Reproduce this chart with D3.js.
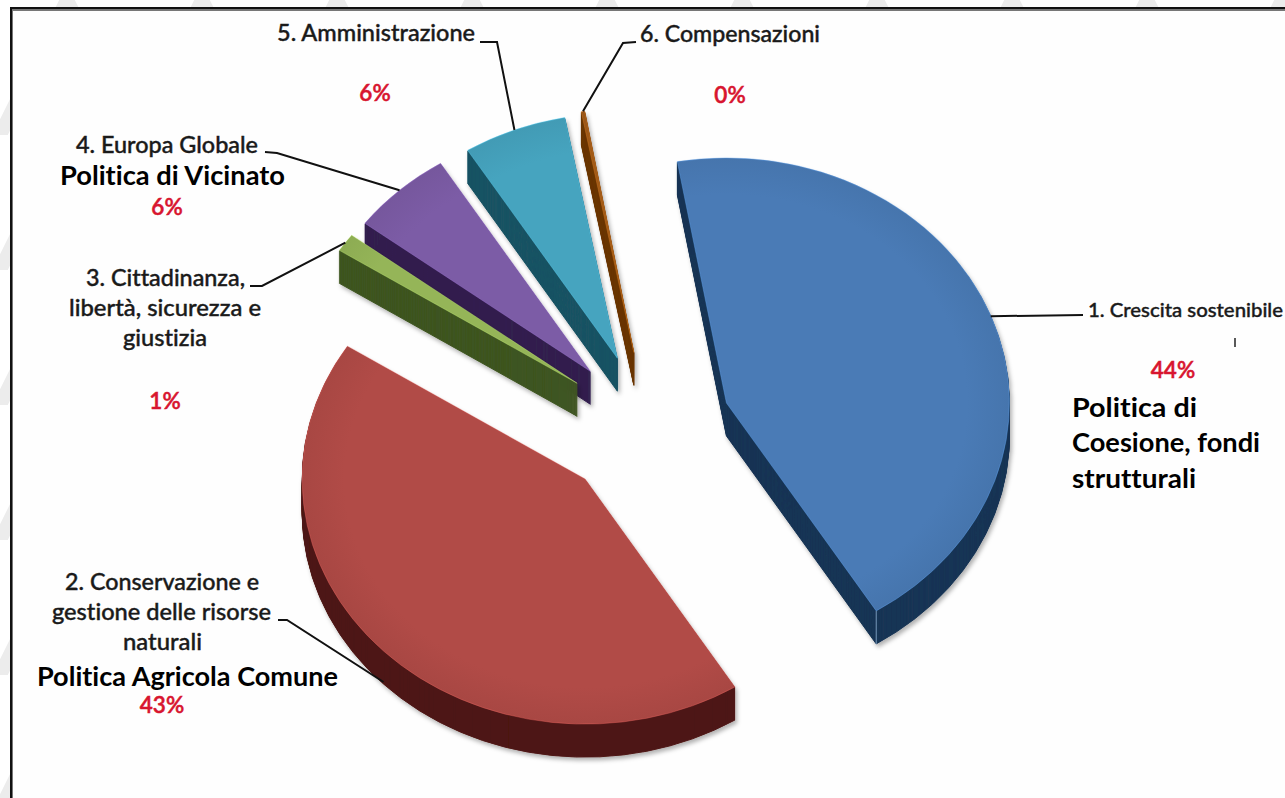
<!DOCTYPE html>
<html>
<head>
<meta charset="utf-8">
<script src="https://cdnjs.cloudflare.com/ajax/libs/d3/7.8.5/d3.min.js"></script>
<style>
  html, body { margin: 0; padding: 0; background: #fff; }
  svg { display: block; }
  text { font-family: Lato, "Open Sans", sans-serif; font-variant-ligatures: none; }
</style>
</head>
<body>
<svg id="chart" width="1285" height="798"></svg>
<script>
// (slice sizes from the drawn angles, labels are rounded)
const categories = [
  "1. Crescita sostenibile",
  "2. Conservazione e gestione delle risorse naturali",
  "3. Cittadinanza, libertà, sicurezza e giustizia",
  "4. Europa Globale",
  "5. Amministrazione",
  "6. Compensazioni"
];
const values = [43.9, 43.0, 1.2, 5.8, 5.9, 0.2];
const percentLabels = ["44%", "43%", "1%", "6%", "6%", "0%"];
const topColors = ["#4a7bb6", "#b14b47", "#95b558", "#7c5ca6", "#46a4bf", "#a05a18"];
const sideColors = ["#1a3555", "#4e1714", "#3f5521", "#33204f", "#1b5364", "#6a3606"];

const width = 1285, height = 798;
const cx = 649, cy = 429, radius = 283, tilt = 0.866, depth = 33, explode = 84;
const deg = Math.PI / 180;
// hand tuned, the small slices sit a bit higher than a plain explode gives
const apexNudge = [[-1, 0], [-4, -1], [-3, -4], [-2, -4], [-1, -3], [0, -5]];

const svg = d3.select("#chart");
const defs = svg.append("defs");
defs.append("filter").attr("id", "shadow")
  .attr("x", "-10%").attr("y", "-10%").attr("width", "125%").attr("height", "125%")
  .append("feDropShadow")
  .attr("dx", 2).attr("dy", 3).attr("stdDeviation", 2)
  .attr("flood-color", "#000").attr("flood-opacity", 0.3);

// faint watermark, only shows outside the frame
defs.append("pattern").attr("id", "mark")
  .attr("patternUnits", "userSpaceOnUse")
  .attr("width", 135).attr("height", 135)
  .append("path")
  .attr("d", "M0,135 L67,0 L135,135")
  .attr("fill", "none").attr("stroke", "#ececec").attr("stroke-width", 14);

// frame
svg.append("rect").attr("width", width).attr("height", height).attr("fill", "#fff");
svg.append("rect").attr("width", width).attr("height", height).attr("fill", "url(#mark)");
svg.append("rect")
  .attr("x", 11.5).attr("y", 9.5).attr("width", width).attr("height", height)
  .attr("fill", "#fefefe").attr("stroke", "#777").attr("stroke-width", 3);
svg.append("path")
  .attr("d", `M${width},8 H11 V${height}`)
  .attr("fill", "none").attr("stroke", "#111").attr("stroke-width", 2);

const pie = d3.pie().value(d => d).sort(null)
  .startAngle(-10 * deg).endAngle(350 * deg);
const arcs = pie(values);
const arc = d3.arc().innerRadius(0).outerRadius(radius);
const midAngle = d => (d.startAngle + d.endAngle) / 2;

// unit circle angle -> offset on the tilted plane
const onPlane = (a, r) => [r * Math.sin(a), -r * Math.cos(a) * tilt];
const apex = d => {
  const p = onPlane(midAngle(d), explode);
  return [cx + p[0] + apexNudge[d.index][0], cy + p[1] + apexNudge[d.index][1]];
};

arcs.forEach((d, i) => {
  const grad = defs.append("radialGradient").attr("id", "top" + i)
    .attr("gradientUnits", "userSpaceOnUse")
    .attr("cx", 0).attr("cy", 0).attr("r", radius);
  grad.append("stop").attr("offset", "0%").attr("stop-color", topColors[i]);
  grad.append("stop").attr("offset", "85%").attr("stop-color", topColors[i]);
  grad.append("stop").attr("offset", "100%").attr("stop-color", d3.color(topColors[i]).darker(0.15));
});

// back slices first so the nearer walls sit on top
const drawOrder = [5, 4, 3, 2, 0, 1];
const slices = svg.append("g").selectAll("g.slice")
  .data(drawOrder.map(i => ({ arc: arcs[i], i })))
  .join("g")
  .attr("class", "slice")
  .attr("transform", d => `translate(${apex(d.arc)})`);

slices.append("g")
  .attr("filter", "url(#shadow)")
  .selectAll("path")
  .data(d => d3.range(depth, 0, -1).map(k => ({ k, d })))
  .join("path")
  .attr("transform", s => `translate(0,${s.k}) scale(1,${tilt})`)
  .attr("d", s => arc(s.d.arc))
  .attr("fill", s => sideColors[s.d.i])
  .attr("stroke", s => sideColors[s.d.i])
  .attr("stroke-width", 1)
  .attr("vector-effect", "non-scaling-stroke");

slices.append("path")
  .attr("transform", `scale(1,${tilt})`)
  .attr("d", d => arc(d.arc))
  .attr("fill", d => `url(#top${d.i})`)
  .attr("stroke", d => d3.color(topColors[d.i]).brighter(0.8))
  .attr("stroke-opacity", 0.5)
  .attr("stroke-width", 0.8)
  .attr("vector-effect", "non-scaling-stroke");

// light corner on the front of the blue slice
const blue = arcs[0];
const blueCorner = onPlane(blue.endAngle, radius);
svg.append("line")
  .attr("x1", apex(blue)[0] + blueCorner[0]).attr("y1", apex(blue)[1] + blueCorner[1])
  .attr("x2", apex(blue)[0] + blueCorner[0]).attr("y2", apex(blue)[1] + blueCorner[1] + depth)
  .attr("stroke", "#8fb0d6").attr("stroke-width", 0.8);

// leader lines: from the label elbow to the middle of each slice's rim
const leaderElbows = [
  [[1083, 315]],
  [[278, 620], [287, 620]],
  [[250, 286], [262, 286]],
  [[265, 152], [277, 153]],
  [[480, 42], [497, 42]],
  [[636, 42], [623, 43]]
];
const leaderDrop = [1, depth - 2, 0, 0, 0, 0];
const line = d3.line();
svg.append("g").selectAll("path")
  .data(arcs)
  .join("path")
  .attr("d", (d, i) => {
    const a = apex(d), p = onPlane(midAngle(d), radius);
    return line([...leaderElbows[i], [a[0] + p[0], a[1] + p[1] + leaderDrop[i]]]);
  })
  .attr("fill", "none").attr("stroke", "#111").attr("stroke-width", 2);

// leftover tick in the source picture
svg.append("line").attr("x1", 1235).attr("x2", 1235).attr("y1", 338).attr("y2", 347)
  .attr("stroke", "#222").attr("stroke-width", 1.5);

// text blocks, each line stretched to the width it has in the picture
const categoryLines = [
  [{ t: "1. Crescita sostenibile", x: 1088, y: 317, w: 195, size: 20 }],
  [{ t: "2. Conservazione e", x: 65, y: 590, w: 194, size: 23 },
   { t: "gestione delle risorse", x: 52, y: 620, w: 219, size: 23 },
   { t: "naturali", x: 123, y: 650, w: 79, size: 23 }],
  [{ t: "3. Cittadinanza,", x: 86, y: 286, w: 159, size: 23 },
   { t: "libertà, sicurezza e", x: 69, y: 316, w: 192, size: 23 },
   { t: "giustizia", x: 123, y: 346, w: 84, size: 23 }],
  [{ t: "4. Europa Globale", x: 76, y: 153, w: 182, size: 23 }],
  [{ t: "5. Amministrazione", x: 277, y: 41, w: 198, size: 23 }],
  [{ t: "6. Compensazioni", x: 640, y: 42, w: 180, size: 23 }]
];
const percentPos = [[1173, 378], [162, 713], [165, 409], [167, 215], [375, 101], [730, 103]];

svg.append("g").selectAll("text")
  .data(categoryLines.flat())
  .join("text")
  .attr("x", d => d.x)
  .attr("y", d => d.y)
  .attr("textLength", d => d.w)
  .attr("lengthAdjust", "spacingAndGlyphs")
  .attr("font-size", d => d.size)
  .attr("font-weight", 500)
  .attr("fill", "#1a1a1a")
  .attr("stroke", "#1a1a1a")
  .attr("stroke-width", 0.4)
  .text(d => d.t);

svg.append("g").selectAll("text")
  .data(percentLabels)
  .join("text")
  .attr("x", (t, i) => percentPos[i][0])
  .attr("y", (t, i) => percentPos[i][1])
  .attr("text-anchor", "middle")
  .attr("font-size", 22.5)
  .attr("font-weight", 600)
  .attr("fill", "#d8152f")
  .attr("stroke", "#d8152f")
  .attr("stroke-width", 0.5)
  .text(t => t);

// bold policy names
const policyNotes = [
  { t: "Politica di", x: 1072, y: 417, w: 125 },
  { t: "Coesione, fondi", x: 1072, y: 452, w: 188 },
  { t: "strutturali", x: 1072, y: 488, w: 124 },
  { t: "Politica Agricola Comune", x: 37, y: 686, w: 301 },
  { t: "Politica di Vicinato", x: 60, y: 185, w: 225 }
];
svg.append("g").selectAll("text")
  .data(policyNotes)
  .join("text")
  .attr("x", d => d.x)
  .attr("y", d => d.y)
  .attr("textLength", d => d.w)
  .attr("lengthAdjust", "spacingAndGlyphs")
  .attr("font-size", 26.5)
  .attr("font-weight", 700)
  .attr("fill", "#000")
  .text(d => d.t);
</script>
</body>
</html>
